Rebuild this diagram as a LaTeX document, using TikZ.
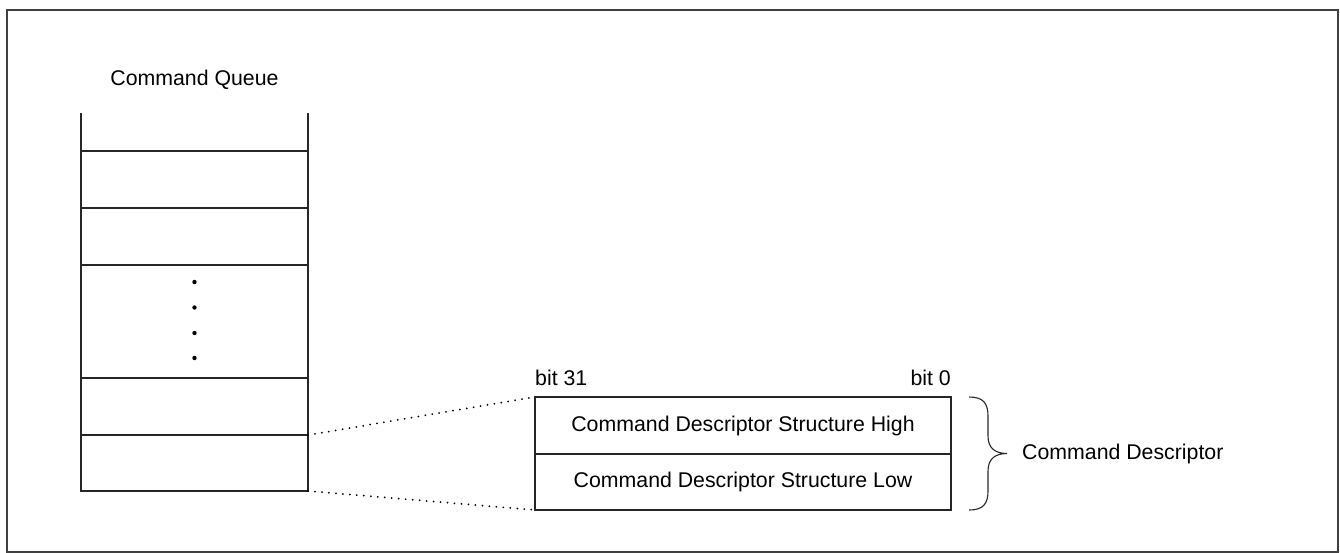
\documentclass[tikz,border=0pt]{standalone}
\usepackage{fontspec}
\setmainfont{Liberation Sans}
\begin{document}
\begin{tikzpicture}[x=1pt,y=-1pt,
  font=\fontsize{21.3}{25}\selectfont,
  cell/.style={draw=black!85,line width=1.3pt,minimum width=227pt,inner sep=0pt,outer sep=0pt,anchor=north west},
  dcell/.style={draw=black!85,line width=1.3pt,minimum width=416pt,inner sep=0pt,outer sep=0pt,anchor=north west},
  dotline/.style={line width=2pt,dash pattern=on 0pt off 7pt,line cap=round},
  lbl/.style={inner sep=0pt}]
\useasboundingbox (0,0) rectangle (1340,552);
\draw[draw=black!75,line width=1.8pt] (7,10) rectangle (1338,552);
\node[lbl] (qlabel) at (194.5,80) {Command Queue};
% queue cells
\node[cell,minimum height=57pt] (c2) at (81,151) {};
\node[cell,minimum height=57pt] (c3) at (81,208) {};
\node[cell,minimum height=113pt] (c4) at (81,265) {};
\node[cell,minimum height=57pt] (c5) at (81,378) {};
\node[cell,minimum height=56pt] (c6) at (81,435) {};
\coordinate (tl) at (81,113);
\coordinate (tr) at (308,113);
\draw[draw=black!85,line width=1.3pt] (tl) -- (c2.north west);
\draw[draw=black!85,line width=1.3pt] (tr) -- (c2.north east);
\foreach \y in {282,307.5,333,358}
  \fill (194.5,\y) circle (2.2pt);
% descriptor
\node[dcell,minimum height=57pt] (hi) at (535,397) {};
\node[dcell,minimum height=56pt] (lo) at (535,454) {};
\node[lbl] (hit) at (hi.center) {Command Descriptor Structure High};
\node[lbl] (lot) at (lo.center) {Command Descriptor Structure Low};
\node[lbl,anchor=base west] (b31) at ([yshift=12pt]hi.north west) {bit 31};
\node[lbl,anchor=base east] (b0) at ([yshift=12pt]hi.north east) {bit 0};
\draw[dotline] (c6.north east) -- (hi.north west);
\draw[dotline] (c6.south east) -- (lo.south west);
% brace
\draw[line width=1.1pt,black!85] (969,397) .. controls (983,397) and (988,403) .. (988,416)
  -- (988,436) .. controls (988,448) and (995,453.5) .. (1007,453.5)
  .. controls (995,453.5) and (988,459) .. (988,471)
  -- (988,491) .. controls (988,504) and (983,510) .. (969,510);
\node[lbl,anchor=west] (cd) at (1022,453.5) {Command Descriptor};
\end{tikzpicture}
\end{document}
